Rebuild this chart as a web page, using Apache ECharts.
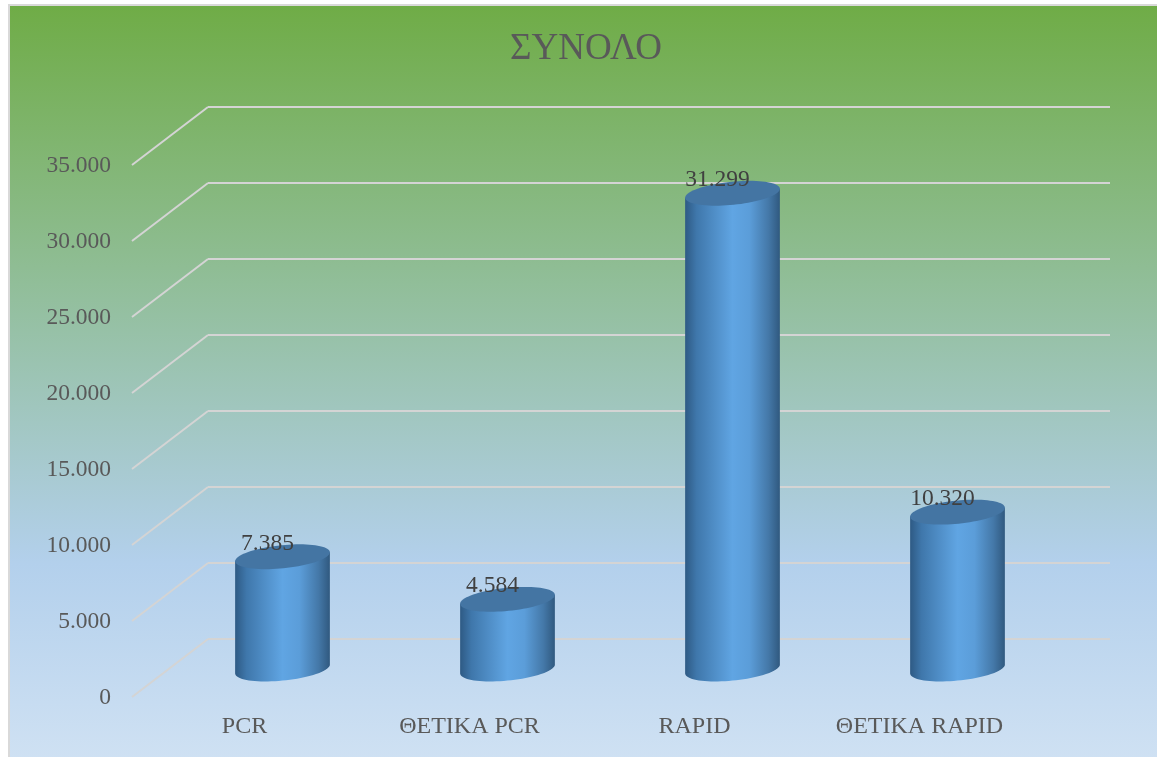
<!DOCTYPE html>
<html>
<head>
<meta charset="utf-8">
<title>ΣΥΝΟΛΟ</title>
<script src="https://cdn.jsdelivr.net/npm/echarts@6/dist/echarts.min.js"></script>
<style>
  html, body { margin: 0; padding: 0; background: #fff; }
  #chart { width: 1157px; height: 757px; }
</style>
</head>
<body>
<div id="chart"></div>
<script>
const categories = ['PCR', 'ΘΕΤΙΚΑ PCR', 'RAPID', 'ΘΕΤΙΚΑ RAPID'];
const totals = [7385, 4584, 31299, 10320];
const gridTicks = [0, 5000, 10000, 15000, 20000, 25000, 30000, 35000];

// the fake 3D: back wall, bar plane and front edge are three grids shifted along the depth
const DEPTH_X = 38;
const DEPTH_Y = 29;
const WALL_LEFT = 208, WALL_TOP = 107, WALL_W = 902, WALL_H = 532;
const FONT = '"Liberation Serif", serif';

const fmt = v => String(v).replace(/\B(?=(\d{3})+$)/g, '.');

const plane = (step, dy, w) => ({
  left: WALL_LEFT - DEPTH_X * step,
  top: WALL_TOP + DEPTH_Y * step + dy,
  width: w,
  height: WALL_H
});

const catAxis = (gridIndex, show) => ({
  type: 'category',
  gridIndex,
  data: categories,
  axisLine: { show: false },
  axisTick: { show: false },
  axisLabel: { show, color: '#595959', fontFamily: FONT, fontSize: 24, margin: 17 }
});

const valAxis = (gridIndex, opts) => Object.assign({
  type: 'value',
  gridIndex,
  min: 0,
  max: 35000,
  interval: 5000,
  axisLine: { show: false },
  axisTick: { show: false },
  axisLabel: { show: false },
  splitLine: { show: false }
}, opts);

// points of a tilted ellipse, right side up, from angle a0 to a1
const ellipsePts = (cx, cy, a, b, tilt, a0, a1, n) => {
  const pts = [];
  for (let i = 0; i <= n; i++) {
    const t = a0 + (a1 - a0) * i / n;
    pts.push([
      cx + a * Math.cos(t) * Math.cos(tilt) + b * Math.sin(t) * Math.sin(tilt),
      cy - a * Math.cos(t) * Math.sin(tilt) + b * Math.sin(t) * Math.cos(tilt)
    ]);
  }
  return pts;
};

const bodyFill = new echarts.graphic.LinearGradient(0, 0, 1, 0, [
  { offset: 0, color: '#2e5a84' },
  { offset: 0.12, color: '#3f77ab' },
  { offset: 0.5, color: '#60a5e3' },
  { offset: 0.68, color: '#5b9dd9' },
  { offset: 0.88, color: '#4478a8' },
  { offset: 1, color: '#30597f' }
]);

const renderCylinder = (params, api) => {
  const i = api.value(0);
  const v = api.value(1);
  const base = api.coord([i, 0]);
  const top = api.coord([i, v]);
  const a = api.size([1, 0])[0] * 0.2115;
  const b = a * 0.243;
  const tilt = 0.1;
  const t0 = Math.atan(b * Math.tan(tilt) / a);
  const lower = ellipsePts(base[0], base[1], a, b, tilt, t0, t0 + Math.PI, 40);
  const upper = ellipsePts(top[0], top[1], a, b, tilt, t0, t0 + Math.PI, 40);
  const body = lower.concat([upper[upper.length - 1], upper[0]]);
  return {
    type: 'group',
    children: [
      { type: 'polygon', shape: { points: body }, style: { fill: bodyFill } },
      {
        type: 'polygon',
        shape: { points: ellipsePts(top[0], top[1], a, b, tilt, 0, Math.PI * 2, 80) },
        style: { fill: '#4475a3' }
      },
      {
        type: 'text',
        x: top[0] - 15,
        y: top[1] - 13,
        style: {
          text: fmt(v),
          fill: '#404040',
          font: '23.5px ' + FONT,
          align: 'center',
          verticalAlign: 'middle'
        }
      }
    ]
  };
};

const renderDiagonal = (params, api) => {
  const y = api.coord([0, api.value(0)])[1];
  const x = params.coordSys.x;
  return {
    type: 'line',
    shape: { x1: x, y1: y, x2: x - DEPTH_X * 2, y2: y + DEPTH_Y * 2 },
    style: { stroke: '#d4d4d4', lineWidth: 2 }
  };
};

const chart = echarts.init(document.getElementById('chart'), null, { renderer: 'canvas' });

chart.setOption({
  animation: false,
  graphic: [{
    type: 'rect',
    z: -10,
    shape: { x: 9, y: 5, width: 1150, height: 754 },
    style: {
      stroke: '#d9d9d9',
      lineWidth: 2,
      fill: new echarts.graphic.LinearGradient(0, 0, 0, 1, [
        { offset: 0, color: '#6fac46' },
        { offset: 0.74, color: '#b3d0ec' },
        { offset: 1, color: '#cfe1f3' }
      ])
    }
  }],
  title: {
    text: 'ΣΥΝΟΛΟ',
    left: 581,
    top: 26,
    textAlign: 'center',
    textStyle: { color: '#595959', fontFamily: FONT, fontSize: 37, fontWeight: 'normal' }
  },
  grid: [plane(0, 0, WALL_W), plane(1, 1, 900), plane(2, 1, 900)],
  xAxis: [catAxis(0, false), catAxis(1, false), catAxis(2, true)],
  yAxis: [
    valAxis(0, { splitLine: { show: true, lineStyle: { color: '#d4d4d4', width: 2 } } }),
    valAxis(1),
    valAxis(2, {
      axisLabel: {
        show: true,
        color: '#595959',
        fontFamily: FONT,
        fontSize: 23.5,
        margin: 21,
        formatter: fmt
      }
    })
  ],
  series: [
    {
      type: 'custom',
      xAxisIndex: 0,
      yAxisIndex: 0,
      clip: false,
      silent: true,
      renderItem: renderDiagonal,
      encode: { x: -1, y: 0 },
      data: gridTicks
    },
    {
      type: 'custom',
      xAxisIndex: 1,
      yAxisIndex: 1,
      clip: false,
      renderItem: renderCylinder,
      encode: { x: 0, y: 1 },
      data: totals.map((v, i) => [i, v])
    }
  ]
});

window.addEventListener('resize', () => chart.resize());
</script>
</body>
</html>
